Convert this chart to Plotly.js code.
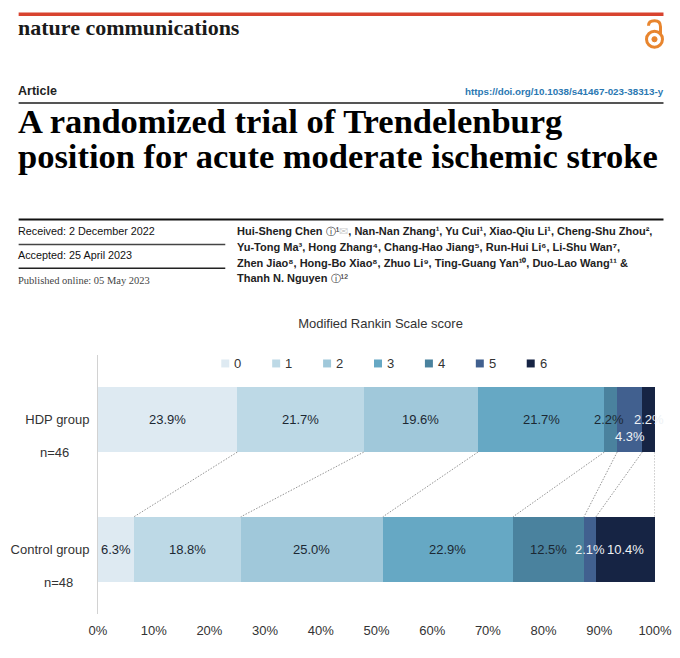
<!DOCTYPE html>
<html><head><meta charset="utf-8">
<script src="https://cdn.plot.ly/plotly-3.0.1.min.js"></script>
<style>html,body{margin:0;padding:0;background:#fff}#c{width:680px;height:658px}</style></head>
<body><div id="c"></div>
<script>
const groups = ["HDP group", "Control group"];
const groupN = ["n=46", "n=48"];
const scores = ["0", "1", "2", "3", "4", "5", "6"];
const hdpValues = [23.9, 21.7, 19.6, 21.7, 2.2, 4.3, 2.2];
const controlValues = [6.3, 18.8, 25.0, 22.9, 12.5, 2.1, 10.4];
const tickValues = [0, 10, 20, 30, 40, 50, 60, 70, 80, 90, 100];
const colors = ["#deeaf2", "#bdd9e6", "#a0c8da", "#66a8c4", "#4a829e", "#41608f", "#162444"];
const labelColors = ["#1c2833", "#1c2833", "#1c2833", "#1c2833", "#1c2833", "#eef2f5", "#eef2f5"];
const chartTitle = "Modified Rankin Scale score";

const L = 97.5, R = 655.5, T = 354.5, B = 614.5;
const px = x => (x - L) / (R - L);
const py = y => (B - y) / (B - T);
const SANS = "Liberation Sans, Arial, sans-serif";
const SERIF = "Liberation Serif, Times New Roman, serif";

const traces = scores.map((s, i) => ({
  type: "bar", orientation: "h", name: s, y: [0, 1],
  x: [hdpValues[i], controlValues[i]], width: 0.5,
  marker: {color: colors[i], line: {width: 0}}, hoverinfo: "skip", showlegend: false
}));

function edges(vals) {
  const sum = vals.reduce((a, b) => a + b, 0);
  let c = 0;
  return vals.map(v => { const s = c; c += v; return [s / sum * 100, c / sum * 100]; });
}
const hdpE = edges(hdpValues), ctlE = edges(controlValues);

hdpE.forEach((e, i) => {
  traces.push({type: "scatter", mode: "lines", x: [e[1], ctlE[i][1]], y: [0.25, 0.75], cliponaxis: false,
    line: {color: "#949494", width: 1, dash: "1.5px,1.5px"}, showlegend: false, hoverinfo: "skip"});
});

const ann = [];
[[hdpValues, hdpE, 0], [controlValues, ctlE, 1]].forEach(([vals, es, g]) => {
  vals.forEach((v, i) => {
    ann.push({xref: "x", yref: "y", x: (es[i][0] + es[i][1]) / 2, y: g,
      text: v.toFixed(1) + "%", showarrow: false, xanchor: "center",
      yshift: (g === 0 && i === 5) ? -17 : 0,
      xshift: (g === 0 && i === 4) ? -2 : 0,
      font: {family: SANS, size: 13, color: labelColors[i]}});
  });
});
groupN.forEach((t, g) => ann.push({xref: "paper", yref: "y", x: px(g === 0 ? 53.5 : 57.5), y: g, yshift: -33,
  xanchor: "center", text: t, showarrow: false, font: {family: SANS, size: 13, color: "#333"}}));

function head(text, x, y, size, family, color, anchor) {
  ann.push({xref: "paper", yref: "paper", x: px(anchor ? x + 2 : x - 2), y: py(y - 1), text, showarrow: false,
    xanchor: anchor || "left", yanchor: "middle", borderpad: 0,
    font: {family, size, color}});
}
head("<b>nature communications</b>", 18, 27, 22, SERIF, "#1a1a1a");
head("<b>Article</b>", 18, 90, 12.5, SANS, "#222");
head("<b>https://doi.org/10.1038/s41467-023-38313-y</b>", 664, 91, 9.8, SANS, "#2a78b2", "right");
head("<b>A randomized trial of Trendelenburg</b>", 18, 121, 34.5, SERIF, "#000");
head("<b>position for acute moderate ischemic stroke</b>", 18, 155.5, 34.5, SERIF, "#000");
head("Received: 2 December 2022", 18, 231, 10.8, SANS, "#111");
head("Accepted: 25 April 2023", 18, 255.5, 10.8, SANS, "#111");
head("Published online: 05 May 2023", 18, 281, 10.5, SERIF, "#444");
const ORC = '<span style="font-size:10px">ⓘ</span>';
head("<b>Hui-Sheng Chen</b> " + ORC + "¹<span style=\"color:#ccc\">✉</span><b>, Nan-Nan Zhang¹, Yu Cui¹, Xiao-Qiu Li¹, Cheng-Shu Zhou²,</b>", 238, 231.5, 11, SANS, "#222");
head("<b>Yu-Tong Ma³, Hong Zhang⁴, Chang-Hao Jiang⁵, Run-Hui Li⁶, Li-Shu Wan⁷,</b>", 238, 247.5, 11, SANS, "#222");
head("<b>Zhen Jiao⁸, Hong-Bo Xiao⁸, Zhuo Li⁹, Ting-Guang Yan¹⁰, Duo-Lao Wang¹¹ &amp;</b>", 238, 263.5, 11, SANS, "#222");
head("<b>Thanh N. Nguyen</b> " + ORC + "¹²", 238, 278.5, 11, SANS, "#222");

function hline(y, x0, x1, w, color) {
  return {type: "line", xref: "paper", yref: "paper", x0: px(x0), x1: px(x1), y0: py(y), y1: py(y),
    line: {color, width: w}};
}
const orange = "#e8852e";
function circle(cx, cy, r, lw, fill) {
  return {type: "circle", xref: "paper", yref: "paper", x0: px(cx - r), x1: px(cx + r), y0: py(cy - r), y1: py(cy + r),
    line: {color: orange, width: lw}, fillcolor: fill};
}
const shapes = [
  hline(12.5, 18, 664, 3.5, "#d8432f"),
  hline(101.5, 18, 664, 2, "#555"),
  hline(218.5, 18, 664, 2, "#111"),
  hline(243.5, 18, 225, 1.5, "#444"),
  hline(267.5, 18, 225, 1.5, "#222"),
  circle(655, 37.5, 8, 3, "rgba(0,0,0,0)"),
  circle(655, 37.5, 2.6, 1, orange),
  {type: "path", xref: "paper", yref: "paper",
   path: `M ${px(649)} ${py(24)} Q ${px(649)} ${py(19)} ${px(655)} ${py(19)} Q ${px(661)} ${py(19)} ${px(661)} ${py(25)} L ${px(661)} ${py(33)}`,
   line: {color: orange, width: 3}, fillcolor: "rgba(0,0,0,0)"}
];

// key: one swatch and one label per score
scores.forEach((s, i) => {
  const x = 225 + 51 * i;
  shapes.push({type: "rect", xref: "paper", yref: "paper", x0: px(x - 4), x1: px(x + 4), y0: py(363 - 4), y1: py(363 + 4),
    line: {width: 0}, fillcolor: colors[i]});
  ann.push({xref: "paper", yref: "paper", x: px(x + 8 - 1), y: py(363), text: s, showarrow: false,
    xanchor: "left", yanchor: "middle", font: {family: SANS, size: 13, color: "#333"}});
});

const layout = {
  width: 680, height: 658, paper_bgcolor: "#fff", plot_bgcolor: "#fff",
  margin: {l: L, r: 680 - R, t: T, b: 658 - B, pad: 0, autoexpand: false},
  barmode: "stack", barnorm: "percent", bargap: 0.5,
  title: {text: chartTitle, font: {family: SANS, size: 13, color: "#333"},
          x: 380.5 / 680, xanchor: "center", y: 1 - 323 / 658, yanchor: "middle"},
  xaxis: {range: [0, 100], tickmode: "array", tickvals: tickValues, ticktext: tickValues.map(v => v + "%"),
          showgrid: false, zeroline: false, showline: false, ticks: "", ticklabelstandoff: 7,
          tickfont: {family: SANS, size: 13, color: "#333"}},
  yaxis: {range: [1.5, -0.5], tickmode: "array", tickvals: [0, 1], ticktext: groups,
          showgrid: false, zeroline: false, showline: true, linecolor: "#d2d2d2", linewidth: 1,
          ticks: "", ticklabelstandoff: 5,
          tickfont: {family: SANS, size: 13, color: "#333"}},
  annotations: ann, shapes, showlegend: false
};
Plotly.newPlot("c", traces, layout, {displayModeBar: false, staticPlot: true});
</script></body></html>
